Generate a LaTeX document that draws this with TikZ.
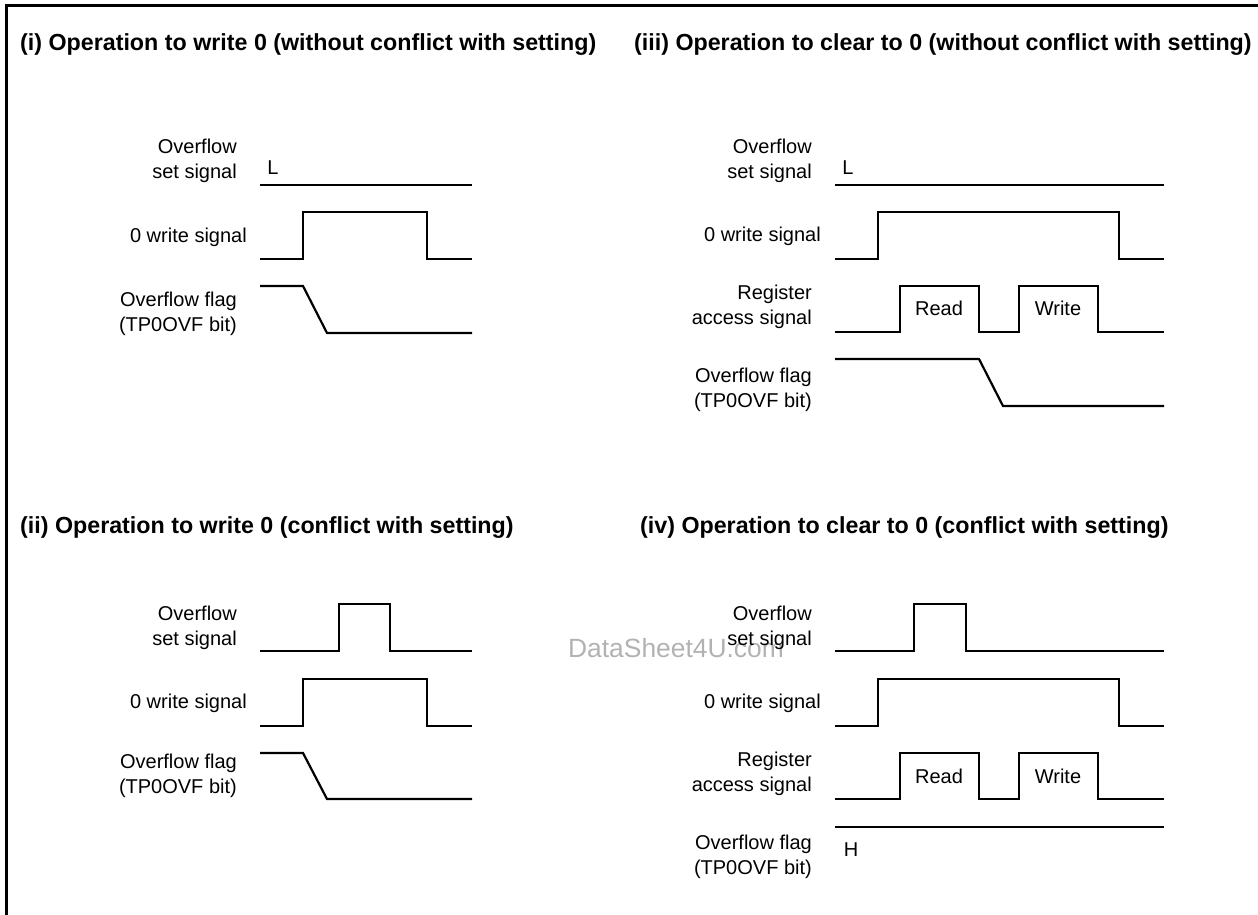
\documentclass[tikz,border=0pt]{standalone}
\usepackage{fontspec}
\setmainfont{Liberation Sans}
\begin{document}
\begin{tikzpicture}[x=1pt,y=-1pt,
  sig/.style={line width=2.2pt, line join=miter},
  frameline/.style={line width=3pt},
  lab/.style={anchor=east, align=right, inner sep=0pt, font=\fontsize{20}{24.5}\selectfont},
  ttl/.style={anchor=west, inner sep=0pt, font=\bfseries\fontsize{23.25}{27}\selectfont},
  lvl/.style={inner sep=0pt, font=\fontsize{20}{24}\selectfont},
  wm/.style={text=black!30, inner sep=0pt, font=\fontsize{26.4}{30}\selectfont}]
\useasboundingbox (0,0) rectangle (1258,915);
\draw[frameline] (6,915) -- (6,6) -- (1258,6);

% watermark
\node[wm] (wmark) at (676,648) {DataSheet4U.com};

% titles
\node[ttl] (t1) at (20,45) {(i) Operation to write 0 (without conflict with setting)};
\node[ttl] (t3) at (634,45) {(iii) Operation to clear to 0 (without conflict with setting)};
\node[ttl] (t2) at (20,528) {(ii) Operation to write 0 (conflict with setting)};
\node[ttl] (t4) at (640,528) {(iv) Operation to clear to 0 (conflict with setting)};

% ---------- panel (i)
\node[lab] (i-set) at (237,161) {Overflow\\set signal};
\node[lvl] (i-L) at (273,168) {L};
\draw[sig] (260,185) -- (472,185);
\node[lab] (i-wr) at (247,237) {0 write signal};
\draw[sig] (260,259) -- (303,259) -- (303,212) -- (427,212) -- (427,259) -- (472,259);
\node[lab] (i-fl) at (237,314) {Overflow flag\\(TP0OVF bit)};
\draw[sig] (260,286) -- (303,286) -- (327,333) -- (472,333);

% ---------- panel (iii)
\node[lab] (iii-set) at (812,161) {Overflow\\set signal};
\node[lvl] (iii-L) at (848,168) {L};
\draw[sig] (835,185) -- (1164,185);
\node[lab] (iii-wr) at (821,236) {0 write signal};
\draw[sig] (835,259) -- (878,259) -- (878,212) -- (1119,212) -- (1119,259) -- (1164,259);
\node[lab] (iii-reg) at (812,307) {Register\\access signal};
\draw[sig] (835,332) -- (900,332) -- (900,286) -- (979,286) -- (979,332) -- (1019,332)
  -- (1019,286) -- (1098,286) -- (1098,332) -- (1164,332);
\node[lvl] (iii-rd) at (939,308) {Read};
\node[lvl] (iii-wt) at (1058,308) {Write};
\node[lab] (iii-fl) at (812,390) {Overflow flag\\(TP0OVF bit)};
\draw[sig] (835,359) -- (979,359) -- (1003,406) -- (1164,406);

% ---------- panel (ii)
\node[lab] (ii-set) at (237,628) {Overflow\\set signal};
\draw[sig] (260,651) -- (339,651) -- (339,604) -- (390,604) -- (390,651) -- (472,651);
\node[lab] (ii-wr) at (247,703) {0 write signal};
\draw[sig] (260,726) -- (303,726) -- (303,679) -- (427,679) -- (427,726) -- (472,726);
\node[lab] (ii-fl) at (237,776) {Overflow flag\\(TP0OVF bit)};
\draw[sig] (260,753) -- (303,753) -- (327,799) -- (472,799);

% ---------- panel (iv)
\node[lab] (iv-set) at (812,628) {Overflow\\set signal};
\draw[sig] (835,651) -- (914,651) -- (914,604) -- (966,604) -- (966,651) -- (1164,651);
\node[lab] (iv-wr) at (821,703) {0 write signal};
\draw[sig] (835,726) -- (878,726) -- (878,679) -- (1119,679) -- (1119,726) -- (1164,726);
\node[lab] (iv-reg) at (812,774) {Register\\access signal};
\draw[sig] (835,799) -- (900,799) -- (900,753) -- (979,753) -- (979,799) -- (1019,799)
  -- (1019,753) -- (1098,753) -- (1098,799) -- (1164,799);
\node[lvl] (iv-rd) at (939,776) {Read};
\node[lvl] (iv-wt) at (1058,776) {Write};
\draw[sig] (835,827) -- (1164,827);
\node[lvl] (iv-H) at (851,850) {H};
\node[lab] (iv-fl) at (812,857) {Overflow flag\\(TP0OVF bit)};
\end{tikzpicture}
\end{document}
